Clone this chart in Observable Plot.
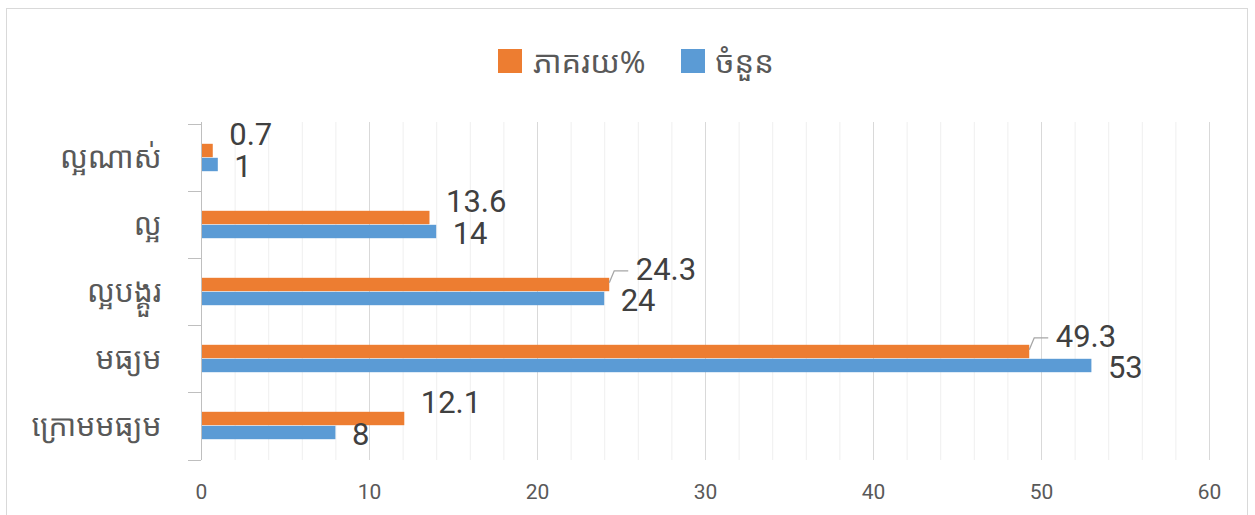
<!DOCTYPE html>
<html><head><meta charset="utf-8">
<script src="https://cdn.jsdelivr.net/npm/d3@7"></script>
<script src="https://cdn.jsdelivr.net/npm/@observablehq/plot@0.6"></script>
<style>
body{margin:0;background:#fff;}
#wrap{position:relative;width:1255px;height:515px;overflow:hidden;background:#fff;}
#border{position:absolute;left:6px;top:8px;width:1242px;height:600px;border:1px solid #d9d9d9;box-sizing:border-box;}
#legend{position:absolute;top:40px;left:498px;display:flex;align-items:center;font-family:"Noto Sans Khmer","Khmer OS",sans-serif;font-size:31px;color:#595959;}
.item{display:flex;align-items:center;margin-right:35px;}
.sw{width:24px;height:24px;margin-right:11px;}
#chart{position:absolute;left:0;top:0;}
</style>
</head><body>
<div id="wrap"><div id="border"></div><div id="chart"></div><div id="legend"></div></div>
<script>
const categories = ["ល្អណាស់","ល្អ","ល្អបង្គួរ","មធ្យម","ក្រោមមធ្យម"];
const percentValues = [0.7, 13.6, 24.3, 49.3, 12.1];
const countValues = [1, 14, 24, 53, 8];
const percentHasLeader = [false, false, true, true, false];
const seriesNames = ["ភាគរយ%","ចំនួន"];
const seriesColors = ["#ED7D31","#5B9BD5"];
const xTicks = [0,10,20,30,40,50,60];
const minorTicks = [2,4,6,8,12,14,16,18,22,24,26,28,32,34,36,38,42,44,46,48,52,54,56,58];

const pctData = categories.map((c,i)=>({category:c, value:percentValues[i], leader:percentHasLeader[i], series:seriesNames[0]}));
const cntData = categories.map((c,i)=>({category:c, value:countValues[i], series:seriesNames[1]}));

const W = 1255, H = 515, mT = 122, mB = 55, mL = 201, mR = 46;
const band = (H - mB - mT) / categories.length;
const half = band / 2;
const barH = 14;
const numFont = "Roboto, 'Liberation Sans', sans-serif";

const bandTicks = (index, scales, values, dims) => {
  const g = d3.create("svg:g").attr("stroke", "#bfbfbf").attr("stroke-width", 1);
  const ys = categories.map(c => scales.y(c));
  ys.push(dims.height - dims.marginBottom);
  for (const y of ys) {
    g.append("line").attr("x1", dims.marginLeft - 13).attr("x2", dims.marginLeft)
      .attr("y1", Math.round(y) + 0.5).attr("y2", Math.round(y) + 0.5);
  }
  return g.node();
};

const leaders = (index, scales, values, dims) => {
  const g = d3.create("svg:g").attr("stroke", "#a6a6a6").attr("stroke-width", 1.3).attr("fill", "none");
  for (const d of pctData.filter(d => d.leader)) {
    const x = scales.x(d.value);
    const yTop = scales.y(d.category) + half - barH;
    g.append("path").attr("d", `M${x},${yTop + 5}L${x + 5},${yTop - 7}L${x + 19},${yTop - 7}`);
  }
  return g.node();
};

const chart = Plot.plot({
  width: W, height: H,
  marginTop: mT, marginBottom: mB, marginLeft: mL, marginRight: mR,
  x: {domain: [0, 60]},
  y: {domain: categories, padding: 0},
  style: {background: "transparent", overflow: "visible"},
  marks: [
    Plot.ruleX(minorTicks, {stroke: "#efefef", strokeWidth: 1}),
    Plot.ruleX(xTicks.slice(1), {stroke: "#d9d9d9", strokeWidth: 1}),
    Plot.barX(pctData, {x: "value", y: "category", fill: seriesColors[0], insetTop: half - barH, insetBottom: half}),
    Plot.barX(cntData, {x: "value", y: "category", fill: seriesColors[1], insetTop: half, insetBottom: half - barH}),
    Plot.ruleX([0], {stroke: "#bfbfbf", strokeWidth: 1}),
    bandTicks,
    leaders,
    Plot.text(pctData.filter(d => !d.leader), {x: "value", y: "category", text: d => String(d.value), dx: 16, dy: -23, textAnchor: "start",
      fontSize: 31, fill: "#404040", fontFamily: numFont}),
    Plot.text(pctData.filter(d => d.leader), {x: "value", y: "category", text: d => String(d.value), dx: 26, dy: -22, textAnchor: "start",
      fontSize: 31, fill: "#404040", fontFamily: numFont}),
    Plot.text(cntData, {x: "value", y: "category", text: d => String(d.value), dx: 16, dy: 9, textAnchor: "start",
      fontSize: 31, fill: "#404040", fontFamily: numFont}),
    Plot.axisX({ticks: xTicks, tickSize: 0, tickPadding: 24, fontSize: 21, color: "#595959",
      fontFamily: numFont, label: null}),
    Plot.axisY({tickSize: 0, tickPadding: 40, fontSize: 30, color: "#595959",
      fontFamily: "'Noto Sans Khmer','Khmer OS',sans-serif", label: null})
  ]
});
document.getElementById("chart").appendChild(chart);

const legend = document.getElementById("legend");
seriesNames.forEach((n, i) => {
  const it = document.createElement("div"); it.className = "item";
  const sw = document.createElement("div"); sw.className = "sw"; sw.style.background = seriesColors[i];
  const tx = document.createElement("span"); tx.textContent = n;
  it.appendChild(sw); it.appendChild(tx); legend.appendChild(it);
});
</script>
</body></html>
